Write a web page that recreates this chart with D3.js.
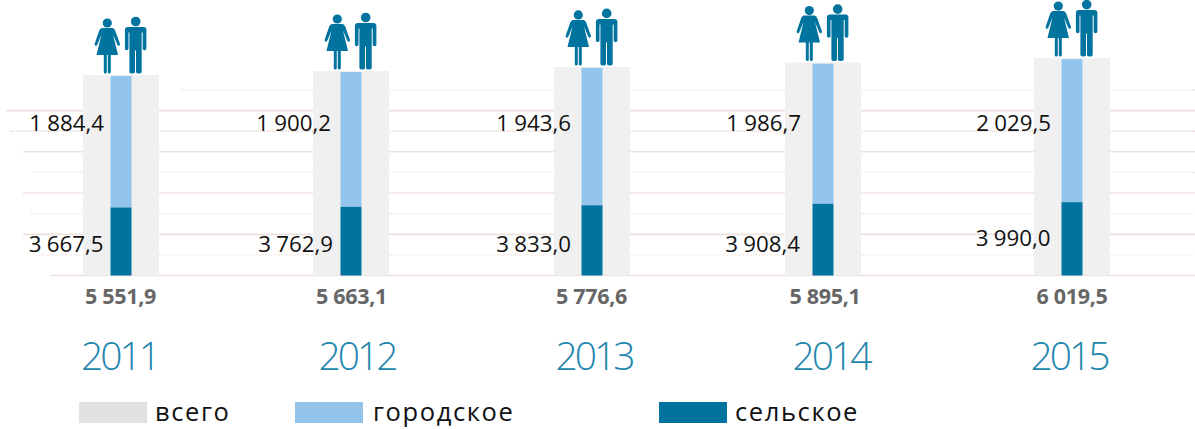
<!DOCTYPE html>
<html><head><meta charset="utf-8">
<script src="https://cdnjs.cloudflare.com/ajax/libs/d3/7.8.5/d3.min.js"></script>
<style>
html,body{margin:0;padding:0;background:#fff}
svg{display:block}
text{font-family:"Open Sans","Noto Sans",sans-serif}
</style></head><body>
<div id="chart"></div>
<script>
const years = ["2011","2012","2013","2014","2015"];
const totals = [5551.9,5663.1,5776.6,5895.1,6019.5];
const upperLabels = [1884.4,1900.2,1943.6,1986.7,2029.5];
const lowerLabels = [3667.5,3762.9,3833.0,3908.4,3990.0];
const legendLabels = ["всего","городское","сельское"];
const gridValues = [0,570,1140,1710,2285,2855,3425,3995,4565,5135];

const W=1195,H=429;
const colors={total:"#f0f0f0",urban:"#92c4ec",rural:"#00739f",grid:"#eee2e0",gridTop:"#ead2ce",legendGray:"#e0e1e3"};
const svg=d3.select("#chart").append("svg").attr("width",W).attr("height",H);

const y=d3.scaleLinear().domain([0,5551.9]).range([275.5,75]);
const barX=d3.scaleOrdinal().domain(years).range([121,351,592,823,1072]);
const upperX=d3.scaleOrdinal().domain(years).range([104,331,571,801,1051]);
const lowerX=d3.scaleOrdinal().domain(years).range([103.5,333,571,800,1050.5]);
const totalX=d3.scaleOrdinal().domain(years).range([120.5,351.5,591.5,825,1072]);
const yearX=d3.scaleOrdinal().domain(years).range([119.5,357,594,831,1069]);
const gridStart=d3.scaleOrdinal().domain(gridValues).range([51,41,23,31,23,34,23,10,6,180]);
const fmt=v=>{const s=v.toFixed(1).replace(".",",");return s[0]+" "+s.slice(1)};

// grid
svg.append("g").selectAll("line").data(gridValues).join("line")
  .attr("x1",d=>gridStart(d)).attr("x2",W)
  .attr("y1",d=>y(d)).attr("y2",d=>y(d))
  .attr("stroke",d=>d===3995?colors.gridTop:colors.grid)
  .attr("stroke-width",(d,i)=>i%2?1.4:(d===3995?1:1.6))
  .attr("stroke-dasharray",(d,i)=>i%2?"1 1":null);

// bars
const G=svg.append("g");
const hw=38, cw=10.5;
years.forEach((yr,i)=>{
  const c=barX(yr);
  G.append("rect").attr("x",c-hw).attr("width",hw*2).attr("y",y(totals[i])).attr("height",y(0)-y(totals[i])).attr("fill",colors.total);
  // coloured column: dark part is as tall as the upper label's value, as in the source
  G.append("rect").attr("x",c-cw).attr("width",cw*2).attr("y",y(totals[i])+1).attr("height",y(upperLabels[i])-y(totals[i])-1).attr("fill",colors.urban);
  G.append("rect").attr("x",c-cw).attr("width",cw*2).attr("y",y(upperLabels[i])).attr("height",y(0)-y(upperLabels[i])).attr("fill",colors.rural);
  // icons
  const ic=svg.append("g").attr("transform",`translate(${c},${y(totals[i])-1.5})`).attr("fill",colors.rural);
  // woman
  ic.append("circle").attr("cx",-13.7).attr("cy",-50.5).attr("r",4.6);
  ic.append("path").attr("d","M-19,-45.5 L-8.5,-45.5 Q-6.8,-45.5 -5.8,-43 L-1,-29.5 Q-0.8,-28 -2.2,-27.8 Q-3.2,-27.7 -3.8,-29 L-8,-39 L-3,-18.5 L-10.2,-18.5 L-10.2,-1.5 Q-10.2,0 -11.8,0 Q-13.2,0 -13.2,-1.5 L-13.2,-18.5 L-14.2,-18.5 L-14.2,-1.5 Q-14.2,0 -15.8,0 Q-17.2,0 -17.2,-1.5 L-17.2,-18.5 L-24.5,-18.5 L-19.5,-39 L-23.6,-29 Q-24.2,-27.7 -25.2,-27.8 Q-26.6,-28 -26.4,-29.5 L-21.8,-43 Q-20.8,-45.5 -19,-45.5 Z");
  // man
  ic.append("circle").attr("cx",14.7).attr("cy",-52).attr("r",4.8);
  ic.append("path").attr("d","M7,-46.5 L22.5,-46.5 Q25.4,-46.5 25.4,-43.5 L25.4,-25 Q25.4,-23.3 23.5,-23.3 Q21.7,-23.3 21.7,-25 L21.7,-41 L20.7,-41 L20.7,-1.5 Q20.7,0 17.8,0 Q15,0 15,-1.5 L15,-23 L14,-23 L14,-1.5 Q14,0 11.2,0 Q8.4,0 8.4,-1.5 L8.4,-41 L7.5,-41 L7.5,-25 Q7.5,-23.3 5.7,-23.3 Q3.9,-23.3 3.9,-25 L3.9,-43.5 Q3.9,-46.5 7,-46.5 Z");
});

// value labels
const lab=svg.append("g").attr("fill","#111").attr("font-size",22.3).attr("text-anchor","end").attr("word-spacing",-0.5);
lab.selectAll(".u").data(years).join("text").attr("class","u").attr("x",d=>upperX(d)).attr("y",130.5).text((d,i)=>fmt(upperLabels[i]));
lab.selectAll(".l").data(years).join("text").attr("class","l").attr("x",d=>lowerX(d)).attr("y",(d,i)=>i==4?245.5:252).text((d,i)=>fmt(lowerLabels[i]));

// totals
svg.append("g").attr("fill","#666").attr("font-size",21.5).attr("font-weight",700).attr("text-anchor","middle").attr("letter-spacing",-0.3)
  .selectAll("text").data(years).join("text").attr("x",d=>totalX(d)).attr("y",303.5).text((d,i)=>fmt(totals[i]));

// years
svg.append("g").attr("fill","#1f86ad").attr("font-size",39).attr("font-weight",300).attr("text-anchor","middle").attr("letter-spacing",-3)
  .selectAll("text").data(years).join("text").attr("x",d=>yearX(d)).attr("y",369.5).text(d=>d);

// legend
const legendX=d3.scaleOrdinal().domain(legendLabels).range([79,295,659]);
const legendTextX=d3.scaleOrdinal().domain(legendLabels).range([155,373,735]);
const legendColor=d3.scaleOrdinal().domain(legendLabels).range([colors.legendGray,colors.urban,colors.rural]);
const L=svg.append("g");
L.selectAll("rect").data(legendLabels).join("rect").attr("x",d=>legendX(d)).attr("y",402).attr("width",68).attr("height",21).attr("fill",d=>legendColor(d));
L.selectAll("text").data(legendLabels).join("text").attr("x",d=>legendTextX(d)).attr("y",421).attr("font-size",25.5).attr("letter-spacing",1.6).attr("fill","#111").text(d=>d);
</script>
</body></html>
